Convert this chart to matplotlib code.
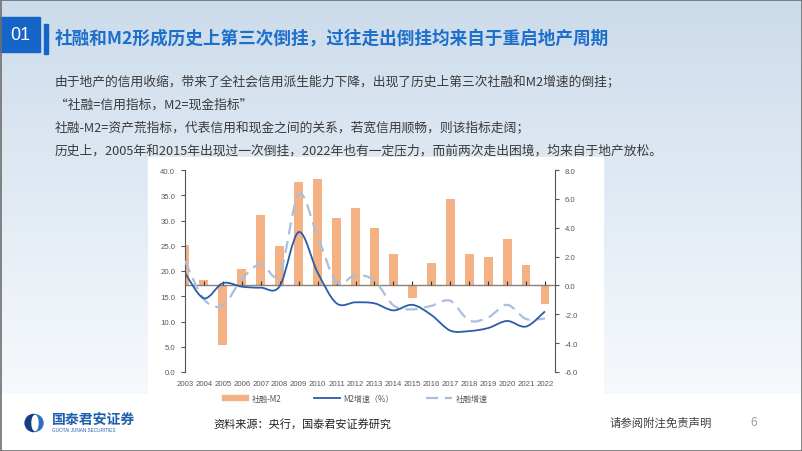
import matplotlib
matplotlib.use('Agg')
import matplotlib.pyplot as plt
import numpy as np
from matplotlib.path import Path
from matplotlib.patches import PathPatch, Rectangle, Ellipse, Wedge, Patch
from matplotlib.lines import Line2D

plt.rcParams['font.family'] = ['Noto Sans CJK SC', 'DejaVu Sans']

# data
years = [str(y) for y in range(2003, 2023)]
gap = [2.8, 0.35, -4.1, 1.15, 4.85, 2.7, 7.2, 7.35, 4.65, 5.35,
       4.0, 2.15, -0.9, 1.55, 6.0, 2.2, 2.0, 3.25, 1.4, -1.27]     # 社融-M2 (right axis)
m2 = [19.6, 14.6, 17.6, 16.9, 16.7, 17.0, 27.7, 19.7, 13.6, 13.8,
      13.6, 12.2, 13.3, 11.3, 8.2, 8.1, 8.7, 10.1, 9.0, 12.0]      # M2增速
tsf = [22.0, 14.4, 13.2, 18.4, 21.4, 19.4, 35.2, 26.8, 17.8, 19.2,
       18.1, 13.2, 12.4, 13.1, 14.1, 10.2, 10.8, 13.3, 10.5, 10.6]  # 社融增速

title = '社融和M2形成历史上第三次倒挂，过往走出倒挂均来自于重启地产周期'
body = ['由于地产的信用收缩，带来了全社会信用派生能力下降，出现了历史上第三次社融和M2增速的倒挂；',
        '“社融=信用指标，M2=现金指标”',
        '社融-M2=资产荒指标，代表信用和现金之间的关系，若宽信用顺畅，则该指标走阔；',
        '历史上，2005年和2015年出现过一次倒挂，2022年也有一定压力，而前两次走出困境，均来自于地产放松。']

BAR = '#F4B183'
M2C = '#2A5CA8'
TSFC = '#A9C0DC'
GRAY = '#595959'


def smooth_path(xs, ys):
    # excel style smoothed line: catmull-rom segments as cubic beziers
    pts = np.column_stack([xs, ys]).astype(float)
    n = len(pts)
    verts = [pts[0]]
    codes = [Path.MOVETO]
    for i in range(n - 1):
        p0 = pts[max(i - 1, 0)]
        p1 = pts[i]
        p2 = pts[i + 1]
        p3 = pts[min(i + 2, n - 1)]
        verts += [p1 + (p2 - p0) / 6, p2 - (p3 - p1) / 6, p2]
        codes += [Path.CURVE4] * 3
    return Path(verts, codes)


fig = plt.figure(figsize=(8.02, 4.52), dpi=100)

# slide background, pixel coordinates
bg = fig.add_axes([0, 0, 1, 1])
bg.set_xlim(0, 802)
bg.set_ylim(452, 0)
bg.axis('off')
grad = np.linspace(0, 1, 256)[:, None]
top_c = np.array([0.80, 0.86, 0.92])
bot_c = np.array([0.99, 0.995, 1.0])
img = top_c[None, None, :] * (1 - grad[:, :, None]) + bot_c[None, None, :] * grad[:, :, None]
img = np.clip(img, 0, 1)
bg.imshow(img, extent=(0, 802, 452, 0), aspect='auto', zorder=0)
bg.add_patch(Rectangle((0, 395), 802, 57, color='white', zorder=1))
bg.add_patch(Rectangle((148, 158), 455, 250, color='white', zorder=1))
bg.add_patch(Rectangle((0.5, 0.5), 801, 451, fill=False, ec='#6e6e6e', lw=1.2, zorder=5))

# header
bg.add_patch(Rectangle((0, 18), 40, 35, color='#1565C8', zorder=2))
bg.text(20, 36, '01', color='white', fontsize=13, ha='center', va='center',
        family=['Liberation Sans'], zorder=3)
bg.add_patch(Rectangle((44, 25), 4, 30, color='#1565C8', zorder=2))
bg.text(55, 38, title, color='#1E6FCC', fontsize=12.7, fontweight='bold',
        ha='left', va='center', zorder=3)

for i, line in enumerate(body):
    bg.text(55, 82 + 23 * i, line, color='#3a3a3a', fontsize=9.2,
            ha='left', va='center', zorder=3)

# footer logo
bg.add_patch(Ellipse((34, 424), 18, 17, color='#2a6fc0', zorder=2))
bg.add_patch(Wedge((34, 424), 8.5, 90, 270, color='#173f7c', zorder=2.5))
bg.add_patch(Ellipse((35, 424), 6, 15, color='white', zorder=3))
bg.text(52, 420, '国泰君安证券', color='#1E5FAE', fontsize=10, fontweight='bold',
        ha='left', va='center', zorder=3)
bg.text(52, 430.5, 'GUOTAI JUNAN SECURITIES', color='#1E5FAE', fontsize=3.3,
        ha='left', va='center', family=['Liberation Sans'], zorder=3)
bg.text(213, 424, '资料来源：央行，国泰君安证券研究', color='#222222', fontsize=8,
        ha='left', va='center', zorder=3)
bg.text(610, 423, '请参阅附注免责声明', color='#404040', fontsize=8.2,
        ha='left', va='center', zorder=3)
bg.text(750, 423, '6', color='#9a9a9a', fontsize=8.5,
        ha='left', va='center', family=['Liberation Sans'], zorder=3)

# chart
ax = fig.add_axes([185 / 802, 1 - 373 / 452, 370 / 802, 202 / 452])
ax2 = ax.twinx()
ax.set_zorder(ax2.get_zorder() + 1)
ax.patch.set_visible(False)
ax2.patch.set_facecolor('#fafafa')

x = np.arange(len(years))
ax2.bar(x, gap, width=0.47, color=BAR, zorder=2)
ax2.axhline(0, color='#8a8178', lw=1, zorder=3)
ax2.plot(x, np.zeros(len(x)), ls='none', marker=2, ms=3, mew=0.8, color='#333333', zorder=4)
ax2.set_ylim(-6, 8)
ax2.set_yticks(np.arange(-6, 8.1, 2))
ax2.set_yticklabels(['%.1f' % v for v in np.arange(-6, 8.1, 2)])

ax.add_patch(PathPatch(smooth_path(x, tsf), fill=False, ec=TSFC, lw=1.6,
                       ls=(0, (5.5, 3)), zorder=3))
ax.add_patch(PathPatch(smooth_path(x, m2), fill=False, ec=M2C, lw=1.3, zorder=4))
ax.set_ylim(0, 40)
ax.set_yticks(np.arange(0, 40.1, 5))
ax.set_yticklabels(['%.1f' % v for v in np.arange(0, 40.1, 5)])
ax.set_xlim(0, 19.53)
ax.set_xticks(x)
ax.set_xticklabels(years)

for a in (ax, ax2):
    for s in ('top', 'bottom'):
        a.spines[s].set_visible(False)
    a.spines['left'].set_color('#555555')
    a.spines['right'].set_color('#555555')
    a.tick_params(axis='y', labelsize=5.6, labelcolor=GRAY, color='#555555',
                  length=3, width=0.8, direction='out', pad=4)
    for lab in a.get_yticklabels():
        lab.set_family(['Liberation Sans'])
ax.spines['right'].set_visible(False)
ax2.spines['left'].set_visible(False)
ax.tick_params(axis='x', length=0, labelsize=5.6, labelcolor=GRAY, pad=6)
for lab in ax.get_xticklabels():
    lab.set_family(['Liberation Sans'])
ax2.tick_params(axis='x', length=0, labelbottom=False)

handles = [Patch(color=BAR),
           Line2D([], [], color=M2C, lw=1.3),
           Line2D([], [], color=TSFC, lw=1.6, ls=(0, (5.5, 3)))]
fig.legend(handles, ['社融-M2', 'M2增速（%）', '社融增速'], loc='center',
           bbox_to_anchor=(355 / 802, 1 - 399 / 452), ncol=3, frameon=False,
           fontsize=5.8, labelcolor=GRAY, handlelength=3.2, handleheight=0.6,
           columnspacing=4, handletextpad=0.5)

fig.savefig('out.png', dpi=100)
